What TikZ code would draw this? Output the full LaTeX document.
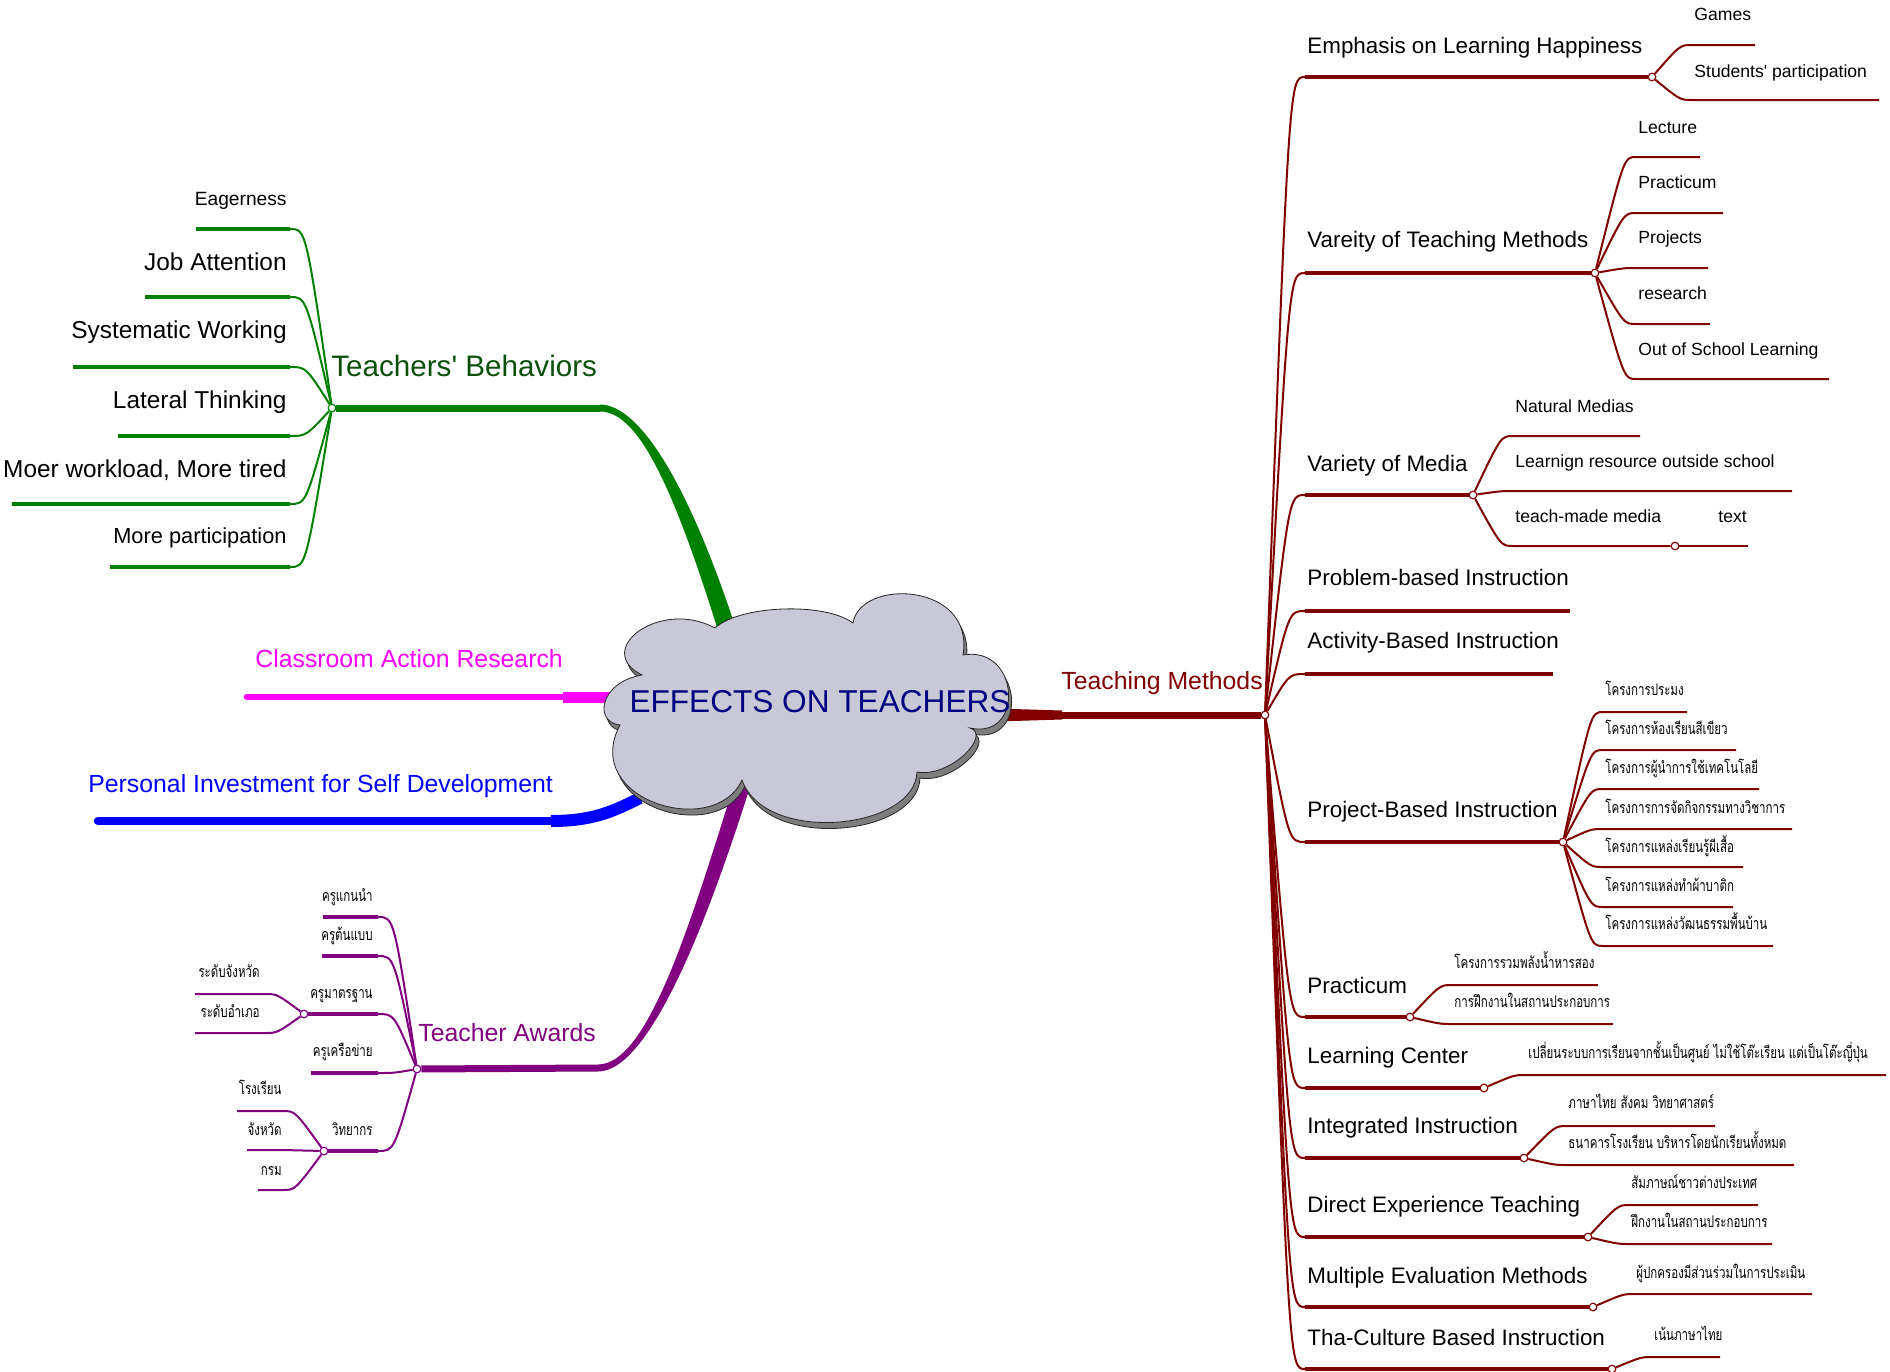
\documentclass[tikz,border=0pt]{standalone}
\usepackage{fontspec}
\setmainfont{Liberation Sans}
\newfontfamily\thaifont[Script=Thai, FakeStretch=0.72]{Loma}

\definecolor{tgreen}{RGB}{0,128,0}
\definecolor{tgreenlbl}{RGB}{10,80,10}
\definecolor{tred}{RGB}{128,0,0}
\definecolor{tpurple}{RGB}{128,0,128}
\definecolor{tmagenta}{RGB}{255,0,255}
\definecolor{tblue}{RGB}{0,0,255}
\definecolor{cloudfill}{RGB}{200,200,214}
\definecolor{cloudshadow}{RGB}{125,125,125}
\definecolor{navytext}{RGB}{0,0,128}

\tikzset{
  hub/.style={circle, draw=#1, fill=white, line width=0.6pt, inner sep=0pt, minimum size=3.8pt},
  mainlbl/.style={anchor=base west, inner sep=0pt, font=\fontsize{12.4}{15}\selectfont},
  midlbl/.style={anchor=base west, inner sep=0pt, font=\fontsize{11.2}{13}\selectfont},
  leftlbl/.style={anchor=base east, inner sep=0pt, font=\fontsize{12.2}{14}\selectfont},
  smalllbl/.style={anchor=base west, inner sep=0pt, font=\fontsize{8.8}{10}\selectfont},
  thailbl/.style={anchor=base west, inner sep=0pt, font=\thaifont\fontsize{8}{9}\selectfont},
  thailblr/.style={thailbl, anchor=base east},
  trunk/.style={draw=#1, line width=1pt},
  bar/.style={draw=#1, line width=1.8pt},
  twig/.style={draw=#1, line width=1pt},
}

\begin{document}
\begin{tikzpicture}[x=0.5pt, y=-0.5pt]
  \useasboundingbox (0,0) rectangle (1890,1371);

  % hubs
  \node[hub=tred] (tm) at (1265,715) {};
  \node[hub=tgreen] (tb) at (332,408) {};
  \node[hub=tpurple] (ta) at (417,1069) {};

  % main branches, under the cloud
  \coordinate (tb-j) at (600,408);
  \coordinate (ta-j) at (598,1068);
  \coordinate (tm-j) at (1060,715);
  \coordinate (car) at (247,697);
  \coordinate (car-j) at (563,697);
  \coordinate (car-c) at (640,697);
  \coordinate (pi) at (98,821);
  \coordinate (pi-j) at (551,821);
  \coordinate (pi-c) at (640,798);

  \fill[tgreen] (746.6,662.3) .. controls (693,487) and (640,404.5) .. (600,404.5)
    -- (600,411.5) .. controls (640,411.5) and (677,493) .. (729.4,667.7) -- cycle;
  \draw[tgreen, line width=3.5pt] (tb) -- (tb-j);

  \fill[tpurple] (757.6,762.4) .. controls (710,918) and (650,1071.5) .. (598,1071.5)
    -- (598,1064.5) .. controls (650,1064.5) and (694,912) .. (742.4,757.6) -- cycle;
  \draw[tpurple, line width=3.5pt] (ta) -- (ta-j);

  \fill[tred] (980,708) -- (1062,710.5) -- (1062,719.5) -- (980,722) -- cycle;
  \draw[tred, line width=3.5pt] (tm-j) -- (tm);

  \draw[tmagenta, line width=3.4pt, line cap=round] (car) -- (car-j);
  \draw[tmagenta, line width=5.5pt] (car-j) -- (car-c);

  \draw[tblue, line width=4.2pt, line cap=round] (pi) -- (pi-j);
  \draw[tblue, line width=6pt] (pi-j) .. controls (592,821) and (612,812) .. (pi-c);

  % cloud
  \path[draw=black!85, line width=0.4pt, fill=cloudfill,
        preaction={fill=cloudshadow, draw=black!85, transform canvas={shift={(1.5pt,-3pt)}}}]
    (642,675) .. controls (592,650) and (660,598) .. (715,628)
    .. controls (740,605) and (825,602) .. (853,623)
    .. controls (860,578) and (975,582) .. (963,655)
    .. controls (1020,645) and (1025,740) .. (970,728)
    .. controls (992,735) and (950,778) .. (917,772)
    .. controls (915,830) and (765,845) .. (742,780)
    .. controls (715,840) and (580,800) .. (620,725)
    .. controls (593,722) and (600,682) .. (642,675) -- cycle;
  \node[anchor=base, inner sep=0pt, text=navytext, font=\fontsize{15.8}{18}\selectfont] (center) at (820,712) {EFFECTS ON TEACHERS};

  % main labels
  \node[mainlbl, text=tred] (tm-t) at (1061,689) {Teaching Methods};
  \node[mainlbl, text=tgreenlbl, font=\fontsize{14.8}{17}\selectfont] (tb-t) at (331,376) {Teachers\textquotesingle{} Behaviors};
  \node[mainlbl, text=tpurple] (ta-t) at (418,1041) {Teacher Awards};
  \node[mainlbl, text=tmagenta] (car-t) at (255,667) {Classroom Action Research};
  \node[mainlbl, text=tblue] (pi-t) at (88,792) {Personal Investment for Self Development};

  % ---------------- Teaching Methods ----------------
  \coordinate (emph) at (1305,77);
  \coordinate (vtm) at (1305,273);
  \coordinate (vmed) at (1305,495);
  \coordinate (pbl) at (1305,611);
  \coordinate (abi) at (1305,674);
  \coordinate (pjbi) at (1305,842);
  \coordinate (prac) at (1305,1017);
  \coordinate (lc) at (1305,1088);
  \coordinate (ii) at (1305,1158);
  \coordinate (det) at (1305,1237);
  \coordinate (mem) at (1305,1307);
  \coordinate (tcb) at (1305,1369);

  \node[hub=tred] (emph-h) at (1652,77) {};
  \node[hub=tred] (vtm-h) at (1595,273) {};
  \node[hub=tred] (vmed-h) at (1473,495) {};
  \coordinate (pbl-e) at (1570,611);
  \coordinate (abi-e) at (1553,674);
  \node[hub=tred] (pjbi-h) at (1563,842) {};
  \node[hub=tred] (prac-h) at (1410,1017) {};
  \node[hub=tred] (lc-h) at (1484,1088) {};
  \node[hub=tred] (ii-h) at (1524,1158) {};
  \node[hub=tred] (det-h) at (1588,1237) {};
  \node[hub=tred] (mem-h) at (1593,1307) {};
  \node[hub=tred] (tcb-h) at (1612,1369) {};

  \draw[trunk=tred] (tm) .. controls ([xshift=-8pt]emph) .. (emph);
  \draw[trunk=tred] (tm) .. controls ([xshift=-8pt]vtm) .. (vtm);
  \draw[trunk=tred] (tm) .. controls ([xshift=-8pt]vmed) .. (vmed);
  \draw[trunk=tred] (tm) .. controls ([xshift=-8pt]pbl) .. (pbl);
  \draw[trunk=tred] (tm) .. controls ([xshift=-8pt]abi) .. (abi);
  \draw[trunk=tred] (tm) .. controls ([xshift=-8pt]pjbi) .. (pjbi);
  \draw[trunk=tred] (tm) .. controls ([xshift=-8pt]prac) .. (prac);
  \draw[trunk=tred] (tm) .. controls ([xshift=-8pt]lc) .. (lc);
  \draw[trunk=tred] (tm) .. controls ([xshift=-8pt]ii) .. (ii);
  \draw[trunk=tred] (tm) .. controls ([xshift=-8pt]det) .. (det);
  \draw[trunk=tred] (tm) .. controls ([xshift=-8pt]mem) .. (mem);
  \draw[trunk=tred] (tm) .. controls ([xshift=-8pt]tcb) .. (tcb);

  \draw[bar=tred] (emph) -- (emph-h);
  \draw[bar=tred] (vtm) -- (vtm-h);
  \draw[bar=tred] (vmed) -- (vmed-h);
  \draw[bar=tred] (pbl) -- (pbl-e);
  \draw[bar=tred] (abi) -- (abi-e);
  \draw[bar=tred] (pjbi) -- (pjbi-h);
  \draw[bar=tred] (prac) -- (prac-h);
  \draw[bar=tred] (lc) -- (lc-h);
  \draw[bar=tred] (ii) -- (ii-h);
  \draw[bar=tred] (det) -- (det-h);
  \draw[bar=tred] (mem) -- (mem-h);
  \draw[bar=tred] (tcb) -- (tcb-h);

  \begin{scope}[every node/.style={midlbl}]
    \node (emph-t) at (1307,53) {Emphasis on Learning Happiness};
    \node (vtm-t) at (1307,247) {Vareity of Teaching Methods};
    \node (vmed-t) at (1307,471) {Variety of Media};
    \node (pbl-t) at (1307,585) {Problem-based Instruction};
    \node (abi-t) at (1307,648) {Activity-Based Instruction};
    \node (pjbi-t) at (1307,817) {Project-Based Instruction};
    \node (prac-t) at (1307,993) {Practicum};
    \node (lc-t) at (1307,1063) {Learning Center};
    \node (ii-t) at (1307,1133) {Integrated Instruction};
    \node (det-t) at (1307,1212) {Direct Experience Teaching};
    \node (mem-t) at (1307,1283) {Multiple Evaluation Methods};
    \node (tcb-t) at (1307,1345) {Tha-Culture Based Instruction};
  \end{scope}

  % Emphasis on Learning Happiness
  \coordinate (games) at (1692,45);   \coordinate (games-e) at (1755,45);
  \coordinate (stud) at (1692,100);   \coordinate (stud-e) at (1879,100);
  \draw[twig=tred] (emph-h) .. controls ([xshift=-6pt]games) .. (games) -- (games-e);
  \draw[twig=tred] (emph-h) .. controls ([xshift=-6pt]stud) .. (stud) -- (stud-e);

  % Vareity of Teaching Methods
  \coordinate (lect) at (1636,157);   \coordinate (lect-e) at (1700,157);
  \coordinate (pract) at (1636,213);  \coordinate (pract-e) at (1723,213);
  \coordinate (proj) at (1636,268);   \coordinate (proj-e) at (1708,268);
  \coordinate (rsch) at (1636,324);   \coordinate (rsch-e) at (1710,324);
  \coordinate (oosl) at (1636,379);   \coordinate (oosl-e) at (1829,379);
  \draw[twig=tred] (vtm-h) .. controls ([xshift=-6pt]lect) .. (lect) -- (lect-e);
  \draw[twig=tred] (vtm-h) .. controls ([xshift=-6pt]pract) .. (pract) -- (pract-e);
  \draw[twig=tred] (vtm-h) .. controls ([xshift=-6pt]proj) .. (proj) -- (proj-e);
  \draw[twig=tred] (vtm-h) .. controls ([xshift=-6pt]rsch) .. (rsch) -- (rsch-e);
  \draw[twig=tred] (vtm-h) .. controls ([xshift=-6pt]oosl) .. (oosl) -- (oosl-e);

  % Variety of Media
  \coordinate (natm) at (1513,436);   \coordinate (natm-e) at (1640,436);
  \coordinate (lros) at (1513,491);   \coordinate (lros-e) at (1792,491);
  \coordinate (tmm) at (1513,546);
  \node[hub=tred] (tmm-h) at (1675,546) {};
  \coordinate (txt) at (1717,546);    \coordinate (txt-e) at (1748,546);
  \draw[twig=tred] (vmed-h) .. controls ([xshift=-6pt]natm) .. (natm) -- (natm-e);
  \draw[twig=tred] (vmed-h) .. controls ([xshift=-6pt]lros) .. (lros) -- (lros-e);
  \draw[twig=tred] (vmed-h) .. controls ([xshift=-6pt]tmm) .. (tmm) -- (tmm-h);
  \draw[twig=tred] (tmm-h) -- (txt) -- (txt-e);

  \begin{scope}[every node/.style={smalllbl}]
    \node (games-t) at (1694,20) {Games};
    \node (stud-t) at (1694,77) {Students\textquotesingle{} participation};
    \node (lect-t) at (1638,133) {Lecture};
    \node (pract-t) at (1638,188) {Practicum};
    \node (proj-t) at (1638,243) {Projects};
    \node (rsch-t) at (1638,299) {research};
    \node (oosl-t) at (1638,355) {Out of School Learning};
    \node (natm-t) at (1515,412) {Natural Medias};
    \node (lros-t) at (1515,467) {Learnign resource outside school};
    \node (tmm-t) at (1515,522) {teach-made media};
    \node (txt-t) at (1718,522) {text};
  \end{scope}

  % Project-Based Instruction
  \coordinate (pj1) at (1603,712);    \coordinate (pj1-e) at (1687,712);
  \coordinate (pj2) at (1603,750);    \coordinate (pj2-e) at (1736,750);
  \coordinate (pj3) at (1603,789);    \coordinate (pj3-e) at (1759,789);
  \coordinate (pj4) at (1603,829);    \coordinate (pj4-e) at (1792,829);
  \coordinate (pj5) at (1603,867);    \coordinate (pj5-e) at (1743,867);
  \coordinate (pj6) at (1603,907);    \coordinate (pj6-e) at (1733,907);
  \coordinate (pj7) at (1603,946);    \coordinate (pj7-e) at (1773,946);
  \draw[twig=tred] (pjbi-h) .. controls ([xshift=-6pt]pj1) .. (pj1) -- (pj1-e);
  \draw[twig=tred] (pjbi-h) .. controls ([xshift=-6pt]pj2) .. (pj2) -- (pj2-e);
  \draw[twig=tred] (pjbi-h) .. controls ([xshift=-6pt]pj3) .. (pj3) -- (pj3-e);
  \draw[twig=tred] (pjbi-h) .. controls ([xshift=-6pt]pj4) .. (pj4) -- (pj4-e);
  \draw[twig=tred] (pjbi-h) .. controls ([xshift=-6pt]pj5) .. (pj5) -- (pj5-e);
  \draw[twig=tred] (pjbi-h) .. controls ([xshift=-6pt]pj6) .. (pj6) -- (pj6-e);
  \draw[twig=tred] (pjbi-h) .. controls ([xshift=-6pt]pj7) .. (pj7) -- (pj7-e);

  % Practicum
  \coordinate (pr1) at (1452,985);    \coordinate (pr1-e) at (1598,985);
  \coordinate (pr2) at (1452,1024);   \coordinate (pr2-e) at (1613,1024);
  \draw[twig=tred] (prac-h) .. controls ([xshift=-6pt]pr1) .. (pr1) -- (pr1-e);
  \draw[twig=tred] (prac-h) .. controls ([xshift=-6pt]pr2) .. (pr2) -- (pr2-e);

  % Learning Center
  \coordinate (lc1) at (1526,1075);   \coordinate (lc1-e) at (1886,1075);
  \draw[twig=tred] (lc-h) .. controls ([xshift=-6pt]lc1) .. (lc1) -- (lc1-e);

  % Integrated Instruction
  \coordinate (ii1) at (1567,1126);   \coordinate (ii1-e) at (1715,1126);
  \coordinate (ii2) at (1567,1165);   \coordinate (ii2-e) at (1794,1165);
  \draw[twig=tred] (ii-h) .. controls ([xshift=-6pt]ii1) .. (ii1) -- (ii1-e);
  \draw[twig=tred] (ii-h) .. controls ([xshift=-6pt]ii2) .. (ii2) -- (ii2-e);

  % Direct Experience Teaching
  \coordinate (de1) at (1630,1205);   \coordinate (de1-e) at (1758,1205);
  \coordinate (de2) at (1630,1244);   \coordinate (de2-e) at (1772,1244);
  \draw[twig=tred] (det-h) .. controls ([xshift=-6pt]de1) .. (de1) -- (de1-e);
  \draw[twig=tred] (det-h) .. controls ([xshift=-6pt]de2) .. (de2) -- (de2-e);

  % Multiple Evaluation Methods, Tha-Culture
  \coordinate (me1) at (1635,1294);   \coordinate (me1-e) at (1812,1294);
  \coordinate (tc1) at (1653,1357);   \coordinate (tc1-e) at (1720,1357);
  \draw[twig=tred] (mem-h) .. controls ([xshift=-6pt]me1) .. (me1) -- (me1-e);
  \draw[twig=tred] (tcb-h) .. controls ([xshift=-6pt]tc1) .. (tc1) -- (tc1-e);

  \begin{scope}[every node/.style={thailbl}]
    \node (pj1-t) at (1605,695) {โครงการประมง};
    \node (pj2-t) at (1605,734) {โครงการห้องเรียนสีเขียว};
    \node (pj3-t) at (1605,773) {โครงการผู้นำการใช้เทคโนโลยี};
    \node (pj4-t) at (1605,813) {โครงการการจัดกิจกรรมทางวิชาการ};
    \node (pj5-t) at (1605,852) {โครงการแหล่งเรียนรู้ผีเสื้อ};
    \node (pj6-t) at (1605,891) {โครงการแหล่งทำผ้าบาติก};
    \node (pj7-t) at (1605,929) {โครงการแหล่งวัฒนธรรมพื้นบ้าน};
    \node (pr1-t) at (1454,968) {โครงการรวมพลังน้ำหารสอง};
    \node (pr2-t) at (1454,1007) {การฝึกงานในสถานประกอบการ};
    \node (lc1-t) at (1528,1058) {เปลี่ยนระบบการเรียนจากชั้นเป็นศูนย์ ไม่ใช้โต๊ะเรียน แต่เป็นโต๊ะญี่ปุ่น};
    \node (ii1-t) at (1568,1108) {ภาษาไทย สังคม วิทยาศาสตร์};
    \node (ii2-t) at (1568,1148) {ธนาคารโรงเรียน บริหารโดยนักเรียนทั้งหมด};
    \node (de1-t) at (1631,1188) {สัมภาษณ์ชาวต่างประเทศ};
    \node (de2-t) at (1631,1227) {ฝึกงานในสถานประกอบการ};
    \node (me1-t) at (1636,1278) {ผู้ปกครองมีส่วนร่วมในการประเมิน};
    \node (tc1-t) at (1654,1340) {เน้นภาษาไทย};
  \end{scope}

  % ---------------- Teachers' Behaviors ----------------
  \coordinate (eag) at (290,229);     \coordinate (eag-s) at (196,229);
  \coordinate (job) at (290,297);     \coordinate (job-s) at (145,297);
  \coordinate (sysw) at (290,367);    \coordinate (sysw-s) at (73,367);
  \coordinate (latt) at (290,436);    \coordinate (latt-s) at (118,436);
  \coordinate (work) at (290,504);    \coordinate (work-s) at (12,504);
  \coordinate (part) at (290,567);    \coordinate (part-s) at (110,567);

  \draw[trunk=tgreen] (tb) .. controls ([xshift=8pt]eag) .. (eag);
  \draw[trunk=tgreen] (tb) .. controls ([xshift=8pt]job) .. (job);
  \draw[trunk=tgreen] (tb) .. controls ([xshift=8pt]sysw) .. (sysw);
  \draw[trunk=tgreen] (tb) .. controls ([xshift=8pt]latt) .. (latt);
  \draw[trunk=tgreen] (tb) .. controls ([xshift=8pt]work) .. (work);
  \draw[trunk=tgreen] (tb) .. controls ([xshift=8pt]part) .. (part);
  \draw[bar=tgreen] (eag) -- (eag-s);
  \draw[bar=tgreen] (job) -- (job-s);
  \draw[bar=tgreen] (sysw) -- (sysw-s);
  \draw[bar=tgreen] (latt) -- (latt-s);
  \draw[bar=tgreen] (work) -- (work-s);
  \draw[bar=tgreen] (part) -- (part-s);

  \begin{scope}[every node/.style={leftlbl}]
    \node[font=\fontsize{9.6}{11}\selectfont] (eag-t) at (287,205) {Eagerness};
    \node (job-t) at (287,270) {Job Attention};
    \node (sysw-t) at (287,338) {Systematic Working};
    \node (latt-t) at (287,408) {Lateral Thinking};
    \node (work-t) at (287,477) {Moer workload, More tired};
    \node[font=\fontsize{10.9}{13}\selectfont] (part-t) at (287,543) {More participation};
  \end{scope}

  % ---------------- Teacher Awards ----------------
  \coordinate (kn) at (378,917);      \coordinate (kn-s) at (323,917);
  \coordinate (kt) at (378,956);      \coordinate (kt-s) at (322,956);
  \coordinate (km) at (378,1014);
  \node[hub=tpurple] (km-h) at (304,1014) {};
  \coordinate (kk) at (378,1073);     \coordinate (kk-s) at (311,1073);
  \coordinate (kw) at (378,1151);
  \node[hub=tpurple] (kw-h) at (324,1151) {};

  \draw[trunk=tpurple] (ta) .. controls ([xshift=8pt]kn) .. (kn);
  \draw[trunk=tpurple] (ta) .. controls ([xshift=8pt]kt) .. (kt);
  \draw[trunk=tpurple] (ta) .. controls ([xshift=8pt]km) .. (km);
  \draw[trunk=tpurple] (ta) .. controls ([xshift=8pt]kk) .. (kk);
  \draw[trunk=tpurple] (ta) .. controls ([xshift=8pt]kw) .. (kw);
  \draw[bar=tpurple] (kn) -- (kn-s);
  \draw[bar=tpurple] (kt) -- (kt-s);
  \draw[bar=tpurple] (km) -- (km-h);
  \draw[bar=tpurple] (kk) -- (kk-s);
  \draw[bar=tpurple] (kw) -- (kw-h);

  \coordinate (kmp) at (265,994);     \coordinate (kmp-s) at (195,994);
  \coordinate (kma) at (265,1033);    \coordinate (kma-s) at (195,1033);
  \coordinate (kws) at (283,1111);    \coordinate (kws-s) at (237,1111);
  \coordinate (kwp) at (283,1150);    \coordinate (kwp-s) at (247,1150);
  \coordinate (kwd) at (283,1190);    \coordinate (kwd-s) at (258,1190);
  \draw[twig=tpurple] (km-h) .. controls ([xshift=6pt]kmp) .. (kmp) -- (kmp-s);
  \draw[twig=tpurple] (km-h) .. controls ([xshift=6pt]kma) .. (kma) -- (kma-s);
  \draw[twig=tpurple] (kw-h) .. controls ([xshift=6pt]kws) .. (kws) -- (kws-s);
  \draw[twig=tpurple] (kw-h) -- (kwp) -- (kwp-s);
  \draw[twig=tpurple] (kw-h) .. controls ([xshift=6pt]kwd) .. (kwd) -- (kwd-s);

  \begin{scope}[every node/.style={thailblr}]
    \node (kn-t) at (373,901) {ครูแกนนำ};
    \node (kt-t) at (373,940) {ครูต้นแบบ};
    \node (km-t) at (373,998) {ครูมาตรฐาน};
    \node (kk-t) at (373,1056) {ครูเครือข่าย};
    \node (kw-t) at (373,1135) {วิทยากร};
    \node (kmp-t) at (260,977) {ระดับจังหวัด};
    \node (kma-t) at (260,1017) {ระดับอำเภอ};
    \node (kws-t) at (282,1094) {โรงเรียน};
    \node (kwp-t) at (282,1135) {จังหวัด};
    \node (kwd-t) at (282,1175) {กรม};
  \end{scope}

\end{tikzpicture}
\end{document}
